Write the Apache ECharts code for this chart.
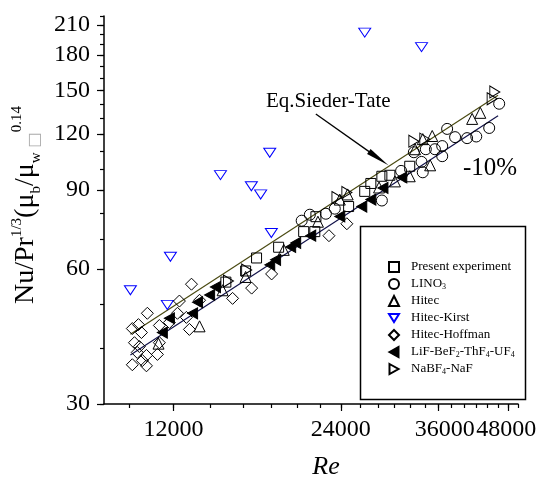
<!DOCTYPE html>
<html><head><meta charset="utf-8">
<script src="https://cdn.jsdelivr.net/npm/echarts@6/dist/echarts.min.js"></script>
<style>html,body{margin:0;padding:0;background:#fff}#c{width:547px;height:481px}</style>
</head><body><div id="c"></div>
<script>
// ---- tick definitions ----
const xMajorTicks = [12000, 24000, 36000, 48000];
const xMinorTicks = [10000,12000,14000,16000,18000,20000,22000,24000,26000,28000,30000,32000,34000,36000,38000,40000,42000,44000,46000,48000,50000];
const yMajorTicks = [30, 60, 90, 120, 150, 180, 210];
const yMinorTicks = [30,40,50,60,70,80,90,100,110,120,130,140,150,160,170,180,190,200,210,220];

// ---- data (Re, Nu/Pr^(1/3)(mu_b/mu_w)^0.14) ----
const presentRe = [14910, 16180, 16930, 18550, 20580, 21550, 21650, 24790, 26500, 27180, 28450, 29410, 31930];
const presentNu = [56.1, 59.4, 63.5, 67.1, 72.7, 72.7, 78.5, 82.7, 89.4, 93.1, 96.6, 97.1, 101.7];

const linoRe = [20410, 21110, 22560, 23410, 28450, 30810, 32480, 33530, 33700, 34130, 35440, 36530, 36530, 37280, 38530, 40490, 42060, 44380, 46250];
const linoNu = [76.9, 79.3, 79.7, 81.8, 85.3, 99.3, 109.3, 104, 98.6, 111, 111, 112.8, 107.1, 123.2, 118.1, 117.5, 118.5, 123.8, 140.2];

const hitecRe = [11280, 13370, 14710, 16180, 18950, 21830, 23900, 24690, 28120, 30030, 31930, 34750, 32640, 33700, 35050, 41350, 42770];
const hitecNu = [40.9, 44.7, 53.8, 57.6, 66.2, 76.5, 85.7, 88, 91.2, 94.1, 96.6, 102.2, 111, 116.9, 118.8, 129.7, 133.8];

const kirstRe = [10040, 11700, 11850, 14580, 16570, 17220, 17880, 18000, 26500, 33530];
const kirstNu = [53.8, 49.9, 63.9, 97.2, 91.8, 88, 109, 72.2, 202, 187.5];

const hoffRe = [10120, 10380, 10510, 10210, 10420, 10330, 10730, 11230, 10550, 10120, 10730, 10770, 11320, 11320, 12200, 12660, 12300, 12820, 12930, 13370, 15330, 16590, 18020, 22850, 24610, 11800];
const hoffNu = [44.2, 45.1, 43.3, 41.1, 40.3, 39.1, 38.5, 38.7, 37.5, 36.7, 36.5, 47.8, 44.9, 41.1, 47.8, 46.8, 50.9, 44, 55.5, 51.1, 51.6, 54.4, 58.5, 71.2, 75.7, 45.6];

const lifRe = [11460, 11800, 12990, 13260, 13940, 14280, 17880, 18320, 19500, 19910, 21190, 23900, 26180, 27180, 28580, 30900];
const lifNu = [43.3, 46.6, 47.8, 50.6, 52.5, 54.7, 61.3, 62.9, 67.2, 68.6, 71.2, 78.6, 82.7, 85.7, 91, 96];

const nabfRe = [15070, 16250, 23620, 24610, 32480, 33990, 44920, 45420];
const nabfNu = [56.4, 59.7, 86.6, 88.9, 115.7, 116.9, 143.8, 149];

// correlation lines (end points)
const lineRe = [10040, 46040];
const siederNu = [42.9, 146.4];
const minus10Nu = [38.6, 131.8];

// annotation arrow (start, end)
const arrowRe = [21640, 28070];
const arrowNu = [133, 105.9];

const seriesNames = ['Present experiment', 'LINO3', 'Hitec', 'Hitec-Kirst', 'Hitec-Hoffman', 'LiF-BeF2-ThF4-UF4', 'NaBF4-NaF'];

const zip = (a, b) => a.map((v, i) => [v, b[i]]);
const FONT = 'Liberation Serif';

const chart = echarts.init(document.getElementById('c'), null, {renderer: 'canvas'});

function scatter(name, re, nu, symbol, size, color, fill) {
  return {
    name, type: 'scatter', data: zip(re, nu), symbol, symbolSize: size,
    xAxisIndex: 0, yAxisIndex: 0,
    itemStyle: {color: fill || 'rgba(255,255,255,0)', borderColor: color, borderWidth: 1, opacity: 1},
    emphasis: {disabled: true}, z: 3
  };
}

const legendFmt = {
  'Present experiment': '{f|Present experiment}',
  'LINO3': '{f|LINO}{s|3}',
  'Hitec': '{f|Hitec}',
  'Hitec-Kirst': '{f|Hitec-Kirst}',
  'Hitec-Hoffman': '{f|Hitec-Hoffman}',
  'LiF-BeF2-ThF4-UF4': '{f|LiF-BeF}{s|2}{t|-ThF}{s|4}{t|-UF}{s|4}',
  'NaBF4-NaF': '{f|NaBF}{s|4}{t|-NaF}'
};

const option = {
  backgroundColor: '#fff',
  animation: false,
  grid: {left: 104, right: 29, top: 16, bottom: 77, containLabel: false, outerBoundsMode: 'none'},
  xAxis: [{
    type: 'log', min: 9000, max: 50000, position: 'bottom',
    name: 'Re', nameLocation: 'middle', nameGap: 50,
    nameTextStyle: {fontFamily: FONT, fontStyle: 'italic', fontSize: 26, color: '#000', padding: [0, 0, 0, 30]},
    axisLine: {show: true, lineStyle: {color: '#000', width: 1.5}},
    axisTick: {show: true, customValues: xMajorTicks, length: 7, lineStyle: {color: '#000', width: 1.2}},
    axisLabel: {show: true, customValues: xMajorTicks, margin: 14, fontFamily: FONT, fontSize: 24, color: '#000',
      formatter: v => { const r = Math.round(v); return r === 36000 ? '{r|36000}' : (r === 48000 ? '{l|48000}' : String(r)); },
      rich: {
        r: {fontFamily: FONT, fontSize: 24, color: '#000', padding: [0, 0, 0, 12]},
        l: {fontFamily: FONT, fontSize: 24, color: '#000', padding: [0, 4, 0, 0]}
      }},
    splitLine: {show: false}, minorTick: {show: false}
  }, {
    type: 'log', min: 9000, max: 50000, position: 'bottom', offset: 0,
    axisLine: {show: false},
    axisTick: {show: true, customValues: xMinorTicks, length: 4, lineStyle: {color: '#000', width: 1.2}},
    axisLabel: {show: false}, splitLine: {show: false}
  }],
  yAxis: [{
    type: 'log', min: 30, max: 220, position: 'left',
    name: '{m|Nu/Pr}{sup|1/3}{m|(μ}{sub|b}{m|/μ}{sub|w}{box| □}{sup|0.14}',
    nameLocation: 'middle', nameGap: 50,
    nameTextStyle: {
      fontFamily: FONT, fontSize: 28, color: '#000', padding: [0, 0, 0, 10],
      rich: {
        m: {fontFamily: FONT, fontSize: 28, lineHeight: 34, color: '#000'},
        sup: {fontFamily: FONT, fontSize: 15, lineHeight: 17, verticalAlign: 'top', color: '#000'},
        sub: {fontFamily: FONT, fontSize: 15, lineHeight: 14, verticalAlign: 'bottom', color: '#000'},
        box: {fontFamily: 'DejaVu Sans', fontSize: 16, lineHeight: 30, verticalAlign: 'bottom', color: '#aaa'}
      }
    },
    axisLine: {show: true, lineStyle: {color: '#000', width: 1.5}},
    axisTick: {show: true, customValues: yMajorTicks, length: 7, lineStyle: {color: '#000', width: 1.2}},
    axisLabel: {show: true, customValues: yMajorTicks, margin: 14, fontFamily: FONT, fontSize: 24, color: '#000', formatter: v => String(Math.round(v))},
    splitLine: {show: false}
  }, {
    type: 'log', min: 30, max: 220, position: 'left', offset: 0,
    axisLine: {show: false},
    axisTick: {show: true, customValues: yMinorTicks, length: 4, lineStyle: {color: '#000', width: 1.2}},
    axisLabel: {show: false}, splitLine: {show: false}
  }],
  legend: {
    data: seriesNames, orient: 'vertical', left: 388, top: 260,
    itemWidth: 10, itemHeight: 10, itemGap: 3, padding: 0,
    selectedMode: false,
    formatter: n => legendFmt[n],
    textStyle: {fontFamily: FONT, fontSize: 13, color: '#000', lineHeight: 14,
      rich: {
        f: {fontFamily: FONT, fontSize: 13, lineHeight: 14, color: '#000', padding: [0, 0, 0, 7]},
        t: {fontFamily: FONT, fontSize: 13, lineHeight: 14, color: '#000'},
        s: {fontFamily: FONT, fontSize: 8, lineHeight: 8, verticalAlign: 'bottom', color: '#000'}
      }}
  },
  graphic: [
    {type: 'rect', left: 358, top: 224, shape: {width: 165, height: 173}, style: {fill: 'none', stroke: '#000', lineWidth: 1.5}, z: 10},
    {type: 'text', left: 266, top: 91, style: {text: 'Eq.Sieder-Tate', font: '21px "Liberation Serif"', fill: '#000'}},
    {type: 'text', left: 463, top: 156, style: {text: '-10%', font: '25px "Liberation Serif"', fill: '#000'}}
  ],
  series: [
    {name: 'SiederTate', type: 'line', data: zip(lineRe, siederNu), symbol: 'none', silent: true,
     lineStyle: {color: '#4a4a12', width: 1.2}, z: 2,
     markLine: {silent: true, symbol: ['none', 'triangle'], symbolSize: [6, 24], label: {show: false},
       lineStyle: {color: '#000', width: 1.3, type: 'solid'},
       data: [[{coord: [arrowRe[0], arrowNu[0]]}, {coord: [arrowRe[1], arrowNu[1]]}]]}},
    {name: 'Minus10', type: 'line', data: zip(lineRe, minus10Nu), symbol: 'none', silent: true,
     lineStyle: {color: '#12124a', width: 1.2}, z: 2},
    scatter('Present experiment', presentRe, presentNu, 'rect', 10, '#000'),
    scatter('LINO3', linoRe, linoNu, 'circle', 11, '#000'),
    scatter('Hitec', hitecRe, hitecNu, 'triangle', 11, '#000'),
    scatter('Hitec-Kirst', kirstRe, kirstNu, 'path://M0,0L10,0L5,8Z', [12, 9], '#0000ff'),
    scatter('Hitec-Hoffman', hoffRe, hoffNu, 'diamond', 12, '#000'),
    scatter('LiF-BeF2-ThF4-UF4', lifRe, lifNu, 'path://M0,5L9,0L9,10Z', [10, 11], '#000', '#000'),
    scatter('NaBF4-NaF', nabfRe, nabfNu, 'path://M0,0L9,5L0,10Z', [10, 12], '#000')
  ]
};
chart.setOption(option);
</script>
</body></html>
